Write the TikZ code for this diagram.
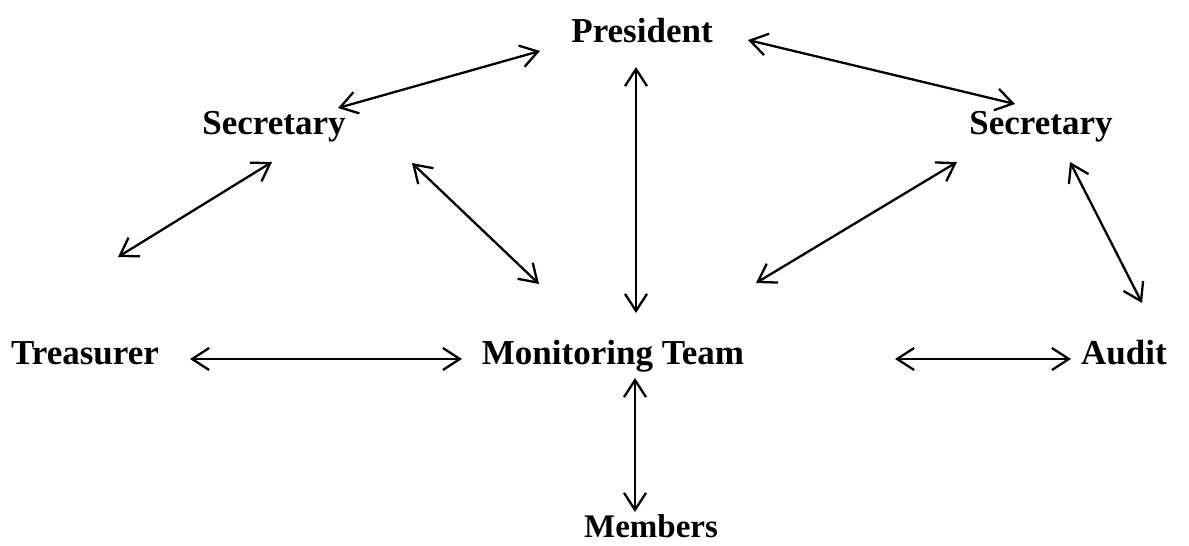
\documentclass[tikz,border=0pt]{standalone}
\usepackage{fontspec}
\setmainfont{Liberation Serif}
\usetikzlibrary{arrows.meta}
\tikzset{
  lbl/.style={font=\fontsize{35}{39}\selectfont\bfseries, anchor=base, inner sep=0pt},
  lblsmall/.style={font=\fontsize{33}{37}\selectfont\bfseries, anchor=base, inner sep=0pt},
  link/.style={line width=2.3pt, {Straight Barb[length=17pt,width=22pt]}-{Straight Barb[length=17pt,width=22pt]}}
}
\begin{document}
\begin{tikzpicture}[x=1pt,y=-1pt]
\useasboundingbox (0,0) rectangle (1189,546);
% labels
\node[lbl] (pres) at (642,42) {President};
\node[lbl] (secl) at (274,134) {Secretary};
\node[lbl] (secr) at (1041,134) {Secretary};
\node[lbl] (treas) at (85,364) {Treasurer};
\node[lbl] (mon) at (613,364) {Monitoring Team};
\node[lbl] (audit) at (1124,364) {Audit};
\node[lblsmall] (mem) at (651,537) {Members};
% connector ends
\coordinate (pA) at (540,51);   \coordinate (slA) at (338,108);
\coordinate (pB) at (748,40);   \coordinate (srB) at (1015,104);
\coordinate (pC) at (636,67);   \coordinate (mC) at (636,313);
\coordinate (slD) at (272,162); \coordinate (tD) at (118,257);
\coordinate (slE) at (412,163); \coordinate (mE) at (539,284);
\coordinate (srF) at (957,162); \coordinate (mF) at (756,283);
\coordinate (srG) at (1070,162);\coordinate (aG) at (1142,303);
\coordinate (tH) at (190,359);  \coordinate (mH) at (462,359);
\coordinate (mI) at (895,359);  \coordinate (aI) at (1071,359);
\coordinate (mJ) at (635,378);  \coordinate (memJ) at (635,512);
% connectors
\draw[link] (pA) -- (slA);
\draw[link] (pB) -- (srB);
\draw[link] (pC) -- (mC);
\draw[link] (slD) -- (tD);
\draw[link] (slE) -- (mE);
\draw[link] (srF) -- (mF);
\draw[link] (srG) -- (aG);
\draw[link] (tH) -- (mH);
\draw[link] (mI) -- (aI);
\draw[link] (mJ) -- (memJ);
\end{tikzpicture}
\end{document}
